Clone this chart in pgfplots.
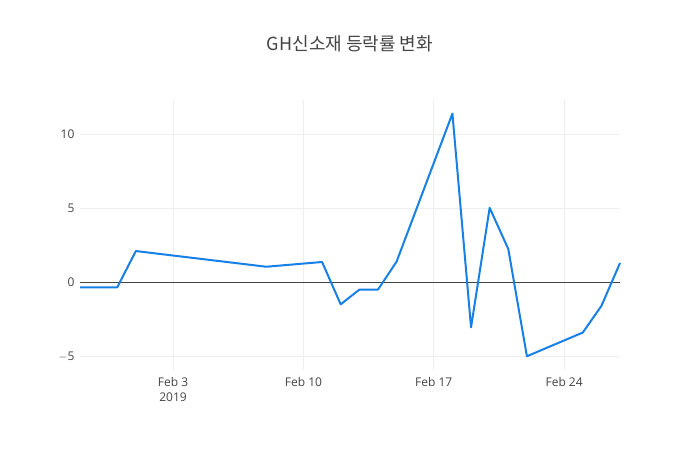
\documentclass[border=0pt]{standalone}
\usepackage{fontspec}
\setmainfont{Open Sans}
\newfontfamily\kr{Noto Sans CJK KR}
\usepackage{pgfplots}
\pgfplotsset{compat=1.18}
\definecolor{txt}{HTML}{444444}
\definecolor{gridc}{HTML}{EEEEEE}
\definecolor{lineblue}{RGB}{22,128,230}
% day 0 = Jan 29, 2019
\pgfplotstableread{
day  chg
0   -0.34
2   -0.34
3    2.11
10   1.05
13   1.37
14  -1.49
15  -0.50
16  -0.50
17   1.39
20  11.40
21  -3.05
22   5.03
23   2.25
24  -5.00
27  -3.40
28  -1.60
29   1.30
}\rates
\begin{document}
\begin{tikzpicture}
\path (0pt,0pt) rectangle (700pt,450pt);
\node[text=txt,font=\kr\fontsize{18}{21}\selectfont] at (350pt,406pt) {GH신소재 등락률 변화};
\begin{axis}[
  at={(80pt,80pt)}, anchor=south west,
  scale only axis, width=540pt, height=270pt,
  xmin=0, xmax=29, ymin=-5.93, ymax=12.32,
  axis line style={draw=none},
  major tick length=0pt,
  xtick={5,12,19,26},
  xticklabels={{Feb 3\\2019},Feb 10,Feb 17,Feb 24},
  xticklabel style={align=center,font=\fontsize{12}{15}\selectfont,text=txt,yshift=-4pt},
  ytick={-5,0,5,10},
  yticklabels={$-$5,0,5,10},
  yticklabel style={font=\fontsize{12}{15}\selectfont,text=txt,xshift=-2pt},
  grid=major, major grid style={gridc,line width=0.8pt},
  clip=false,
]
\addplot[draw=txt,line width=1pt,forget plot] coordinates {(0,0) (29,0)};
\addplot[lineblue,line width=2pt,line join=round,no markers] table[x=day,y=chg] {\rates};
\end{axis}
\end{tikzpicture}
\end{document}
